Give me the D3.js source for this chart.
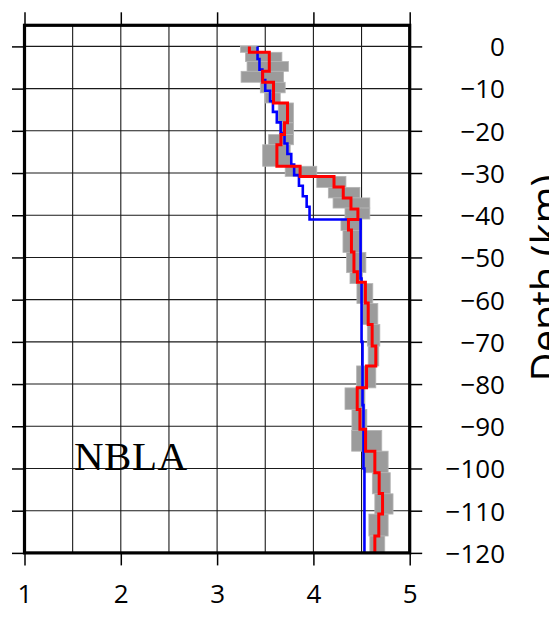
<!DOCTYPE html>
<html>
<head>
<meta charset="utf-8">
<script src="https://cdn.jsdelivr.net/npm/d3@7"></script>
<style>
  html, body { margin: 0; padding: 0; background: #fff; }
  svg { display: block; }
</style>
</head>
<body>
<svg id="chart" width="549" height="619"></svg>
<script>
// Shear-wave velocity profile for station NBLA (velocity in km/s vs depth in km)

const velTicks = [1, 2, 3, 4, 5];
const velGrid = [1.5, 2, 2.5, 3, 3.5, 4, 4.5];
const depthTicks = [0, -10, -20, -30, -40, -50, -60, -70, -80, -90, -100, -110, -120];

// Range of accepted models per layer (grey band)
const grayDepth = [0, -1.4, -3.6, -5.9, -8.5, -11.0, -13.4, -18.1, -20.9, -23.3, -28.4, -30.8, -33.4,
  -35.9, -38.3, -40.9, -43.6, -48.8, -53.6, -56.2, -60.9, -65.9, -71.0, -75.7, -80.9, -86.0,
  -91.0, -95.9, -101.0, -106.0, -110.8, -116.0, -120];
const grayMin = [3.242, 3.294, 3.311, 3.249, 3.449, 3.501, 3.635, 3.656, 3.535, 3.473, 3.707, 4.035,
  4.155, 4.204, 4.328, 4.286, 4.307, 4.345, 4.380, 4.452, 4.500, 4.560, 4.569, 4.449, 4.328,
  4.400, 4.397, 4.524, 4.612, 4.638, 4.576, 4.586];
const grayMax = [3.415, 3.673, 3.741, 3.690, 3.707, 3.656, 3.793, 3.793, 3.793, 3.759, 4.035, 4.338,
  4.483, 4.586, 4.586, 4.493, 4.500, 4.545, 4.509, 4.617, 4.669, 4.690, 4.679, 4.648, 4.535,
  4.555, 4.710, 4.776, 4.798, 4.827, 4.776, 4.741];

// Starting model (blue)
const blueDepth = [0, -3, -5.5, -8, -10.5, -13, -15.5, -18, -20.5, -23, -25.5, -28, -30.5, -33,
  -35.5, -38, -41, -55, -70, -85, -100, -120];
const blueVel = [3.42, 3.44, 3.47, 3.50, 3.55, 3.58, 3.62, 3.66, 3.70, 3.73, 3.77, 3.80, 3.85,
  3.89, 3.93, 3.96, 4.49, 4.50, 4.51, 4.52, 4.53];

// Best-fitting model (red)
const redDepth = [0, -1.4, -5.9, -8.5, -13.4, -18.1, -20.9, -23.3, -28.4, -30.8, -33.3, -35.9,
  -38.5, -41.0, -43.5, -48.7, -53.4, -55.9, -60.8, -65.9, -71.0, -75.7, -80.9, -86.0, -90.7,
  -95.9, -101.0, -105.9, -110.8, -116.0, -120];
const redVel = [3.335, 3.542, 3.473, 3.586, 3.731, 3.700, 3.663, 3.621, 3.862, 4.214, 4.310,
  4.390, 4.462, 4.364, 4.395, 4.421, 4.457, 4.540, 4.569, 4.610, 4.648, 4.552, 4.455, 4.483,
  4.542, 4.638, 4.683, 4.718, 4.679, 4.638];

const stationName = "NBLA";
const depthTitle = "Depth (km)";

const svg = d3.select("#chart");
const plotLeft = 24.5, plotRight = 409.7, plotTop = 25.3, plotBottom = 552.9;

const x = d3.scaleLinear().domain([1, 5]).range([plotLeft, plotRight]);
const y = d3.scaleLinear().domain([5, -120]).range([plotTop, plotBottom]);

const font = "'Open Sans', 'Noto Sans', sans-serif";

// grid
const grid = svg.append("g").attr("stroke", "#1a1a1a").attr("stroke-width", 1.1);
grid.selectAll("line.v").data(velGrid).join("line")
  .attr("class", "v")
  .attr("x1", d => x(d)).attr("x2", d => x(d))
  .attr("y1", plotTop).attr("y2", plotBottom);
grid.selectAll("line.h").data(depthTicks.slice(0, -1)).join("line")
  .attr("class", "h")
  .attr("x1", plotLeft).attr("x2", plotRight)
  .attr("y1", d => y(d)).attr("y2", d => y(d));

// step profile helper: each layer contributes its top and bottom at its velocity
function steps(depths, vels) {
  const pts = [];
  vels.forEach((v, i) => { pts.push([v, depths[i]]); pts.push([v, depths[i + 1]]); });
  return pts;
}

const plot = svg.append("g");

// grey model range
const grayLayers = grayMin.map((vmin, i) => ({ vmin, vmax: grayMax[i], d0: grayDepth[i], d1: grayDepth[i + 1] }));
plot.selectAll("rect.range").data(grayLayers).join("rect")
  .attr("class", "range")
  .attr("x", d => x(d.vmin))
  .attr("width", d => x(d.vmax) - x(d.vmin))
  .attr("y", d => y(d.d0))
  .attr("height", d => y(d.d1) - y(d.d0))
  .attr("fill", "#9b9b9b")
  .attr("stroke", "#b4b4b4")
  .attr("stroke-width", 0.8);

const line = d3.line().x(d => x(d[0])).y(d => y(d[1]));

plot.append("path")
  .attr("d", line(steps(blueDepth, blueVel)))
  .attr("fill", "none").attr("stroke", "#0000ff").attr("stroke-width", 2.6);

plot.append("path")
  .attr("d", line(steps(redDepth, redVel)))
  .attr("fill", "none").attr("stroke", "#ff0000").attr("stroke-width", 3);

// axes ticks
function styleAxis(g) {
  g.select(".domain").remove();
  g.selectAll(".tick line").attr("stroke", "#000").attr("stroke-width", 1.5);
}

svg.append("g").attr("transform", `translate(${plotLeft},0)`)
  .call(d3.axisLeft(y).tickValues(depthTicks).tickSize(12.5).tickFormat(""))
  .call(styleAxis);

svg.append("g").attr("transform", `translate(0,${plotTop})`)
  .call(d3.axisTop(x).tickValues(velTicks).tickSize(13).tickFormat(""))
  .call(styleAxis);

const yAxis = svg.append("g").attr("transform", `translate(${plotRight},0)`)
  .call(d3.axisRight(y).tickValues(depthTicks).tickSize(12.5))
  .call(styleAxis);
yAxis.selectAll(".tick text")
  .attr("x", 505 - plotRight).attr("dy", "0.36em")
  .attr("text-anchor", "end")
  .attr("font-family", font).attr("font-size", 26).attr("fill", "#000");

const xAxis = svg.append("g").attr("transform", `translate(0,${plotBottom})`)
  .call(d3.axisBottom(x).tickValues(velTicks).tickSize(12.5).tickFormat(d3.format("d")))
  .call(styleAxis);
xAxis.selectAll(".tick text")
  .attr("y", 41).attr("dy", "0.36em")
  .attr("font-family", font).attr("font-size", 26).attr("fill", "#000");

// frame
svg.append("rect")
  .attr("x", plotLeft).attr("y", plotTop)
  .attr("width", plotRight - plotLeft).attr("height", plotBottom - plotTop)
  .attr("fill", "none").attr("stroke", "#000").attr("stroke-width", 3.2);

// station label
svg.append("text")
  .attr("x", 74).attr("y", 470)
  .attr("font-family", "'Liberation Serif', 'DejaVu Serif', serif")
  .attr("font-size", 41)
  .attr("textLength", 113)
  .attr("lengthAdjust", "spacing")
  .attr("fill", "#000")
  .text(stationName);

// depth axis title
svg.append("text")
  .attr("transform", "translate(560,278) rotate(-90)")
  .attr("text-anchor", "middle")
  .attr("font-family", font).attr("font-size", 40).attr("fill", "#000")
  .text(depthTitle);
</script>
</body>
</html>
